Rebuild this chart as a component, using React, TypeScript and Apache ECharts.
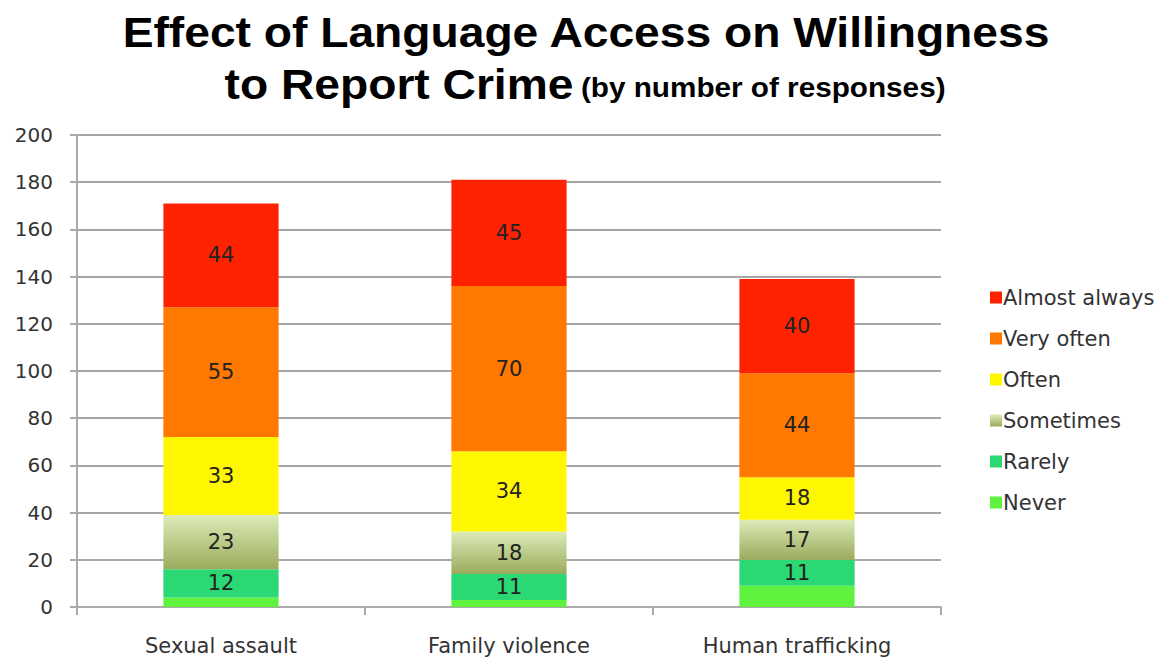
import React, { useEffect, useRef } from "react";
import * as echarts from "echarts";

const categories = ["Sexual assault", "Family violence", "Human trafficking"];
const seriesNames = ["Never", "Rarely", "Sometimes", "Often", "Very often", "Almost always"];
const never = [4, 3, 9];
const rarely = [12, 11, 11];
const sometimes = [23, 18, 17];
const often = [33, 34, 18];
const veryOften = [55, 70, 44];
const almostAlways = [44, 45, 40];
const yTicks = [0, 20, 40, 60, 80, 100, 120, 140, 160, 180, 200];
const titleLine1 = "Effect of Language Access on Willingness";
const titleLine2 = "to Report Crime";
const subtitle = "(by number of responses)";

const TFONT = "'Liberation Sans', Arial, sans-serif";
const FONT = "'DejaVu Sans', Verdana, sans-serif";

export default function App() {
  const ref = useRef<HTMLDivElement>(null);
  useEffect(() => {
    if (!ref.current) return;
    const chart = echarts.init(ref.current, undefined, { renderer: "svg" });
    const sometimesGrad = new echarts.graphic.LinearGradient(0, 0, 0, 1, [
      { offset: 0, color: "#dcebb8" },
      { offset: 1, color: "#9aab5c" },
    ]);
    const colors: any[] = ["#5ff23e", "#2cd873", sometimesGrad, "#fff700", "#ff7800", "#ff2200"];
    const values = [never, rarely, sometimes, often, veryOften, almostAlways];
    const series = seriesNames.map((name, i) => ({
      name,
      type: "bar",
      stack: "total",
      barWidth: "40%",
      data: values[i],
      itemStyle: { color: colors[i] },
      label: {
        show: i !== 0,
        position: "inside",
        fontFamily: FONT,
        fontSize: 21,
        color: "#222",
      },
    }));
    chart.setOption({
      animation: false,
      textStyle: { fontFamily: FONT },
      graphic: [
        {
          type: "text",
          x: 586,
          y: 32,
          scaleX: 1.1,
          style: {
            text: titleLine1,
            fontFamily: TFONT,
            fontSize: 42,
            fontWeight: "bold",
            fill: "#000",
            textAlign: "center",
            textVerticalAlign: "middle",
          },
        },
        {
          type: "text",
          x: 585,
          y: 84,
          scaleX: 1.1,
          style: {
            text: "{a|" + titleLine2 + "}  {b|" + subtitle + "}",
            textAlign: "center",
            textVerticalAlign: "middle",
            rich: {
              a: { fontFamily: TFONT, fontSize: 42, fontWeight: "bold", fill: "#000", color: "#000" },
              b: { fontFamily: TFONT, fontSize: 27, fontWeight: "bold", fill: "#000", color: "#000", verticalAlign: "bottom", padding: [0, 0, 4, 0] },
            },
          },
        },
      ],
      legend: {
        orient: "vertical",
        left: 985,
        top: 282,
        itemWidth: 12,
        itemHeight: 12,
        itemGap: 20,
        icon: "rect",
        data: [...seriesNames].reverse(),
        textStyle: { fontFamily: FONT, fontSize: 21, color: "#333", padding: [0, 0, 0, -4] },
      },
      grid: { left: 77, right: 226, top: 135, bottom: 50 },
      xAxis: {
        type: "category",
        data: categories,
        axisLine: { lineStyle: { color: "#aaa", width: 2 } },
        axisTick: { show: true, alignWithLabel: false, length: 8, lineStyle: { color: "#aaa", width: 2 } },
        axisLabel: { fontFamily: FONT, fontSize: 21, color: "#333", margin: 28 },
      },
      yAxis: {
        type: "value",
        min: 0,
        max: 200,
        interval: 20,
        axisLine: { show: true, lineStyle: { color: "#aaa", width: 2 } },
        axisTick: { show: true, length: 7, lineStyle: { color: "#aaa", width: 2 } },
        axisLabel: { fontFamily: FONT, fontSize: 20, color: "#333", margin: 24,
          formatter: (v: number) => (yTicks.includes(v) ? String(v) : "") },
        splitLine: { lineStyle: { color: "#a6a6a6", width: 2 } },
      },
      series,
    });
    return () => chart.dispose();
  }, []);
  return <div ref={ref} style={{ width: 1167, height: 657, position: "absolute", left: 0, top: 0, background: "#fff" }} />;
}
